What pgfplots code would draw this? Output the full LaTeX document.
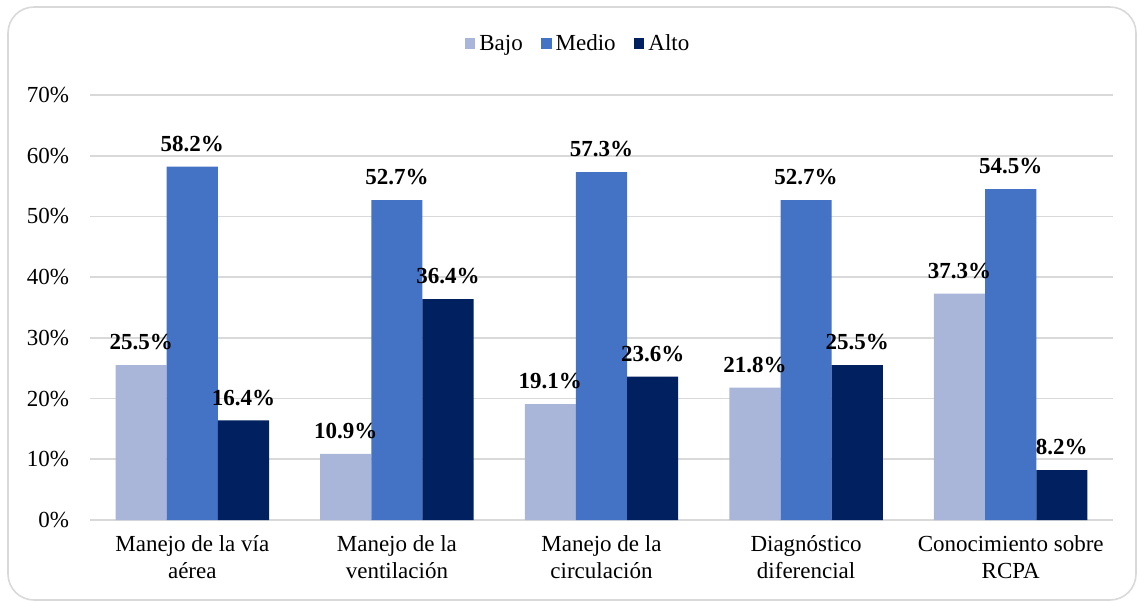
\documentclass[border=0pt]{standalone}
\usepackage{pgfplots}
\pgfplotsset{compat=1.18}
\usepackage{fontspec}
\setmainfont{Liberation Serif}
\definecolor{bajo}{HTML}{A9B6DA}
\definecolor{medio}{HTML}{4472C4}
\definecolor{alto}{HTML}{002060}
\definecolor{gridc}{HTML}{D9D9D9}
\begin{document}
\begin{tikzpicture}
\useasboundingbox (0,0) rectangle (569.5pt,300.5pt);
\draw[gridc, line width=0.8pt, rounded corners=13pt] (4pt,0.5pt) rectangle (568pt,297pt);
\begin{axis}[
  at={(45pt,40.5pt)}, anchor=south west,
  scale only axis, width=511.5pt, height=212.5pt,
  ybar=0pt, bar width=0.25,
  xmin=-0.5, xmax=4.5, ymin=0, ymax=70,
  xtick={0,1,2,3,4},
  xticklabels={{Manejo de la vía\\aérea},{Manejo de la\\ventilación},{Manejo de la\\circulación},{Diagnóstico\\diferencial},{Conocimiento sobre\\RCPA}},
  xticklabel style={align=center, font=\fontsize{11.5}{13.5}\selectfont, yshift=-4pt},
  ytick={0,10,20,30,40,50,60,70},
  yticklabels={0\%,10\%,20\%,30\%,40\%,50\%,60\%,70\%},
  yticklabel style={font=\fontsize{11.5}{13.5}\selectfont, xshift=-7pt},
  major tick length=0pt,
  ymajorgrids, grid style={gridc, line width=0.8pt},
  axis x line*=bottom, axis y line*=left,
  x axis line style={gridc, line width=0.8pt, -},
  y axis line style={draw=none},
  nodes near coords={\pgfmathprintnumber[fixed,precision=1,fixed zerofill,assume math mode=true]{\pgfplotspointmeta}\%},
  nodes near coords style={font=\fontsize{11.5}{13.5}\selectfont\bfseries, black, yshift=4pt},
  legend columns=3,
  legend style={draw=none, at={(0.478,1)}, anchor=center, yshift=25.5pt,
    font=\fontsize{11.5}{13.5}\selectfont, /tikz/every even column/.append style={column sep=7pt}},
  legend image code/.code={\fill[#1] (0pt,-2.6pt) rectangle (5.4pt,2.8pt);},
  clip=false,
]
\addplot[fill=bajo, draw=none] coordinates {(0,25.5) (1,10.9) (2,19.1) (3,21.8) (4,37.3)};
\addplot[fill=medio, draw=none] coordinates {(0,58.2) (1,52.7) (2,57.3) (3,52.7) (4,54.5)};
\addplot[fill=alto, draw=none] coordinates {(0,16.4) (1,36.4) (2,23.6) (3,25.5) (4,8.2)};
\legend{Bajo,Medio,Alto}
\end{axis}
\end{tikzpicture}
\end{document}
